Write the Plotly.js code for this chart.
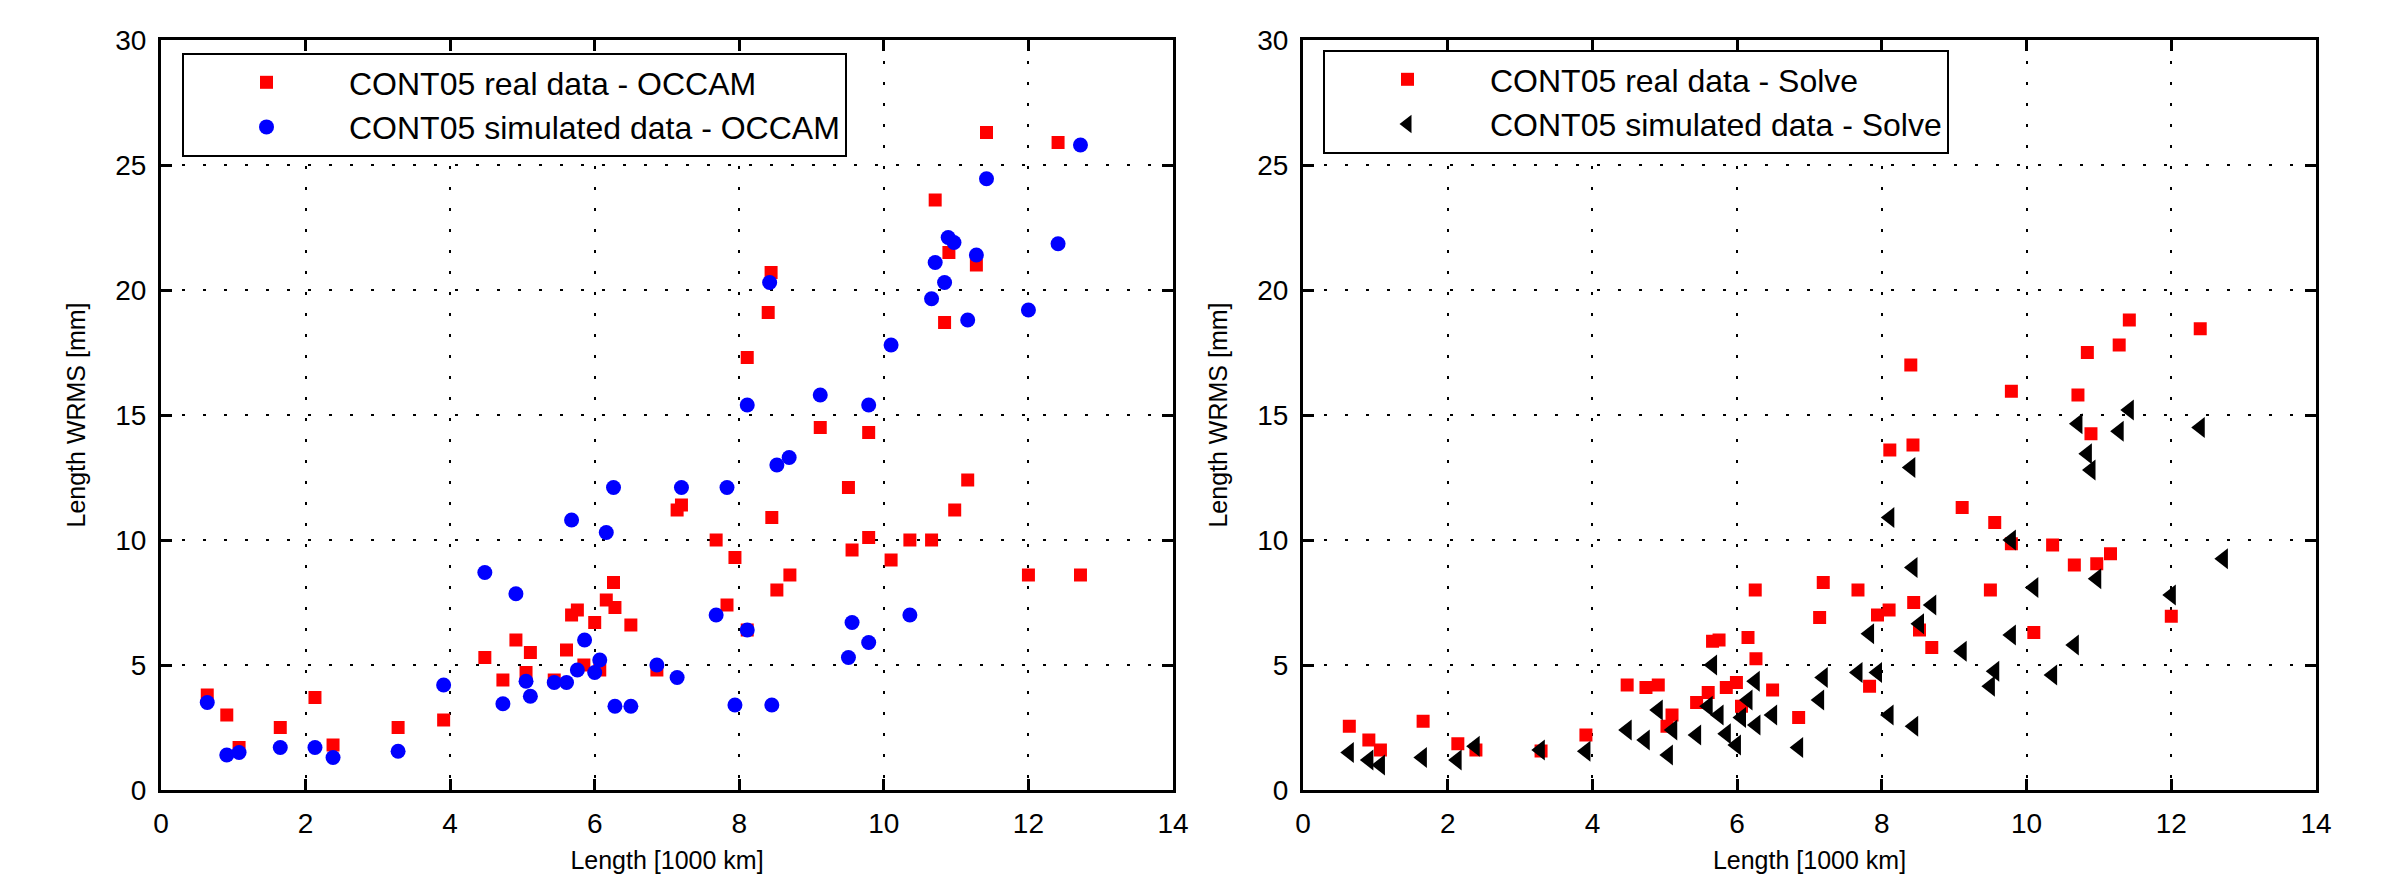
<!DOCTYPE html>
<html>
<head>
<meta charset="utf-8">
<script src="https://cdn.plot.ly/plotly-3.0.1.min.js"></script>
<style>html,body{margin:0;padding:0;background:#fff;}#chart{width:2385px;height:884px;}</style>
</head>
<body>
<div id="chart"></div>
<script>
// ---- Left panel: OCCAM ----
const occamRealX = [0.64,0.91,1.08,1.65,2.13,2.38,3.28,3.91,4.48,4.73,4.91,5.05,5.11,5.44,5.61,5.68,5.76,5.85,6.00,6.07,6.16,6.26,6.28,6.50,6.86,7.14,7.20,7.68,7.83,7.94,8.11,8.11,8.40,8.44,8.45,8.52,8.70,9.12,9.51,9.56,9.79,9.79,10.10,10.36,10.66,10.71,10.84,10.90,10.98,11.16,11.28,11.42,12.00,12.41,12.72];
const occamRealY = [3.8,3.0,1.7,2.5,3.7,1.8,2.5,2.8,5.3,4.4,6.0,4.7,5.5,4.4,5.6,7.0,7.2,5.0,6.7,4.8,7.6,8.3,7.3,6.6,4.8,11.2,11.4,10.0,7.4,9.3,17.3,6.4,19.1,20.7,10.9,8.0,8.6,14.5,12.1,9.6,14.3,10.1,9.2,10.0,10.0,23.6,18.7,21.5,11.2,12.4,21.0,26.3,8.6,25.9,8.6];
const occamSimX = [0.64,0.91,1.08,1.65,2.13,2.38,3.28,3.91,4.48,4.73,4.91,5.05,5.11,5.44,5.61,5.68,5.76,5.86,6.00,6.07,6.16,6.26,6.28,6.50,6.86,7.14,7.20,7.68,7.83,7.94,8.11,8.11,8.42,8.45,8.52,8.69,9.12,9.51,9.56,9.79,9.79,10.10,10.36,10.66,10.71,10.84,10.89,10.97,11.16,11.28,11.42,12.00,12.41,12.72];
const occamSimY = [3.5,1.4,1.5,1.7,1.7,1.3,1.55,4.2,8.7,3.45,7.85,4.35,3.75,4.3,4.3,10.8,4.8,6.0,4.7,5.2,10.3,12.1,3.35,3.35,5.0,4.5,12.1,7.0,12.1,3.4,15.4,6.4,20.3,3.4,13.0,13.3,15.8,5.3,6.7,15.4,5.9,17.8,7.0,19.65,21.1,20.3,22.1,21.9,18.8,21.4,24.45,19.2,21.85,25.8];

// ---- Right panel: Solve ----
const solveRealX = [0.64,0.91,1.07,1.66,2.14,2.39,3.29,3.91,4.48,4.74,4.91,5.03,5.10,5.44,5.60,5.66,5.75,5.85,5.99,6.06,6.15,6.25,6.26,6.49,6.85,7.14,7.19,7.67,7.83,7.94,8.10,8.11,8.40,8.43,8.44,8.52,8.69,9.11,9.50,9.56,9.79,9.79,10.10,10.36,10.66,10.71,10.84,10.89,10.97,11.16,11.28,11.42,12.00,12.40];
const solveRealY = [2.55,2.0,1.6,2.75,1.85,1.6,1.56,2.2,4.2,4.1,4.2,2.55,3.0,3.5,3.9,5.95,6.0,4.1,4.3,3.35,6.1,8.0,5.25,4.0,2.9,6.9,8.3,8.0,4.15,7.0,7.2,13.6,17.0,13.8,7.5,6.4,5.7,11.3,8.0,10.7,15.95,9.85,6.3,9.8,9.0,15.8,17.5,14.25,9.05,9.45,17.8,18.8,6.95,18.45];
const solveSimX = [0.64,0.91,1.07,1.65,2.13,2.38,3.28,3.91,4.48,4.73,4.91,5.05,5.11,5.44,5.60,5.66,5.75,5.85,5.99,6.06,6.15,6.25,6.26,6.49,6.85,7.14,7.19,7.67,7.83,7.94,8.10,8.11,8.40,8.43,8.44,8.52,8.69,9.11,9.50,9.56,9.79,9.79,10.10,10.36,10.66,10.71,10.84,10.89,10.97,11.28,11.42,12.00,12.40,12.72];
const solveSimY = [1.5,1.2,1.0,1.3,1.2,1.75,1.6,1.55,2.4,2.0,3.2,1.4,2.4,2.2,3.35,5.0,3.0,2.25,1.8,2.9,3.6,4.35,2.6,3.0,1.7,3.6,4.5,4.7,6.25,4.7,3.0,10.9,12.9,8.9,2.55,6.65,7.4,5.55,4.15,4.75,10.0,6.2,8.1,4.6,5.8,14.65,13.45,12.8,8.45,14.35,15.2,7.8,14.5,9.25];

const xTickVals = [0,2,4,6,8,10,12,14];
const xTickText = ['0','2','4','6','8','10','12','14'];
const yTickVals = [0,5,10,15,20,25,30];
const yTickText = ['0','5','10','15','20','25','30'];

const seriesNames = ['CONT05 real data - OCCAM','CONT05 simulated data - OCCAM','CONT05 real data - Solve','CONT05 simulated data - Solve'];
const xTitle = 'Length [1000 km]';
const yTitle = 'Length WRMS [mm]';

const FONT = '"Liberation Sans", Arial, Helvetica, sans-serif';

const traces = [
  {x: occamRealX, y: occamRealY, name: seriesNames[0], type:'scatter', mode:'markers', xaxis:'x', yaxis:'y', legend:'legend',
   marker:{symbol:'square', size:13, color:'#ff0000'}},
  {x: occamSimX, y: occamSimY, name: seriesNames[1], type:'scatter', mode:'markers', xaxis:'x', yaxis:'y', legend:'legend',
   marker:{symbol:'circle', size:15, color:'#0000ff'}},
  {x: solveRealX, y: solveRealY, name: seriesNames[2], type:'scatter', mode:'markers', xaxis:'x2', yaxis:'y2', legend:'legend2',
   marker:{symbol:'square', size:13, color:'#ff0000'}},
  {x: solveSimX, y: solveSimY, name: seriesNames[3], type:'scatter', mode:'markers', xaxis:'x2', yaxis:'y2', legend:'legend2',
   marker:{symbol:'triangle-left', size:18, color:'#000000'}}
];

function xAxis(domain, anchor){
  return {
    domain: domain, anchor: anchor, range:[0,14], autorange:false,
    tickmode:'array', tickvals:xTickVals, ticktext:xTickText,
    ticks:'inside', ticklen:11, tickwidth:3, tickcolor:'#000',
    showline:true, linewidth:3, linecolor:'#000', mirror:'ticks',
    showgrid:true, gridcolor:'#000', gridwidth:2, griddash:'3px,18px',
    zeroline:false, automargin:false, ticklabelstandoff:6,
    tickfont:{family:FONT, size:28, color:'#000'},
    title:{text:xTitle, font:{family:FONT, size:25, color:'#000'}, standoff:14}
  };
}
function yAxis(domain, anchor){
  return {
    domain: domain, anchor: anchor, range:[0,30], autorange:false,
    tickmode:'array', tickvals:yTickVals, ticktext:yTickText,
    ticks:'inside', ticklen:11, tickwidth:3, tickcolor:'#000',
    showline:true, linewidth:3, linecolor:'#000', mirror:'ticks',
    showgrid:true, gridcolor:'#000', gridwidth:2, griddash:'3px,18px',
    zeroline:false, automargin:false, ticklabelstandoff:6,
    tickfont:{family:FONT, size:28, color:'#000'},
    title:{text:yTitle, font:{family:FONT, size:25, color:'#000'}, standoff:23}
  };
}

const yDom = [94/884, 844/884];
const legendCommon = {xanchor:'left', yanchor:'top', xref:'paper', yref:'paper',
    bgcolor:'#fff', bordercolor:'#000', borderwidth:2, itemwidth:155,
    font:{family:FONT, size:32, color:'#000'}, tracegroupgap:0};
const layout = {
  width:2385, height:884,
  margin:{l:0, r:0, t:0, b:0},
  paper_bgcolor:'#fff', plot_bgcolor:'#fff',
  font:{family:FONT, color:'#000'},
  xaxis: xAxis([161/2385, 1173/2385], 'y'),
  yaxis: yAxis(yDom, 'x'),
  xaxis2: xAxis([1303/2385, 2316/2385], 'y2'),
  yaxis2: yAxis(yDom, 'x2'),
  showlegend:true,
  legend: Object.assign({x:182/2385, y:1-53/884}, legendCommon),
  legend2: Object.assign({x:1323/2385, y:1-50/884}, legendCommon)
};

Plotly.newPlot('chart', traces, layout, {displayModeBar:false, staticPlot:true});
</script>
</body>
</html>
